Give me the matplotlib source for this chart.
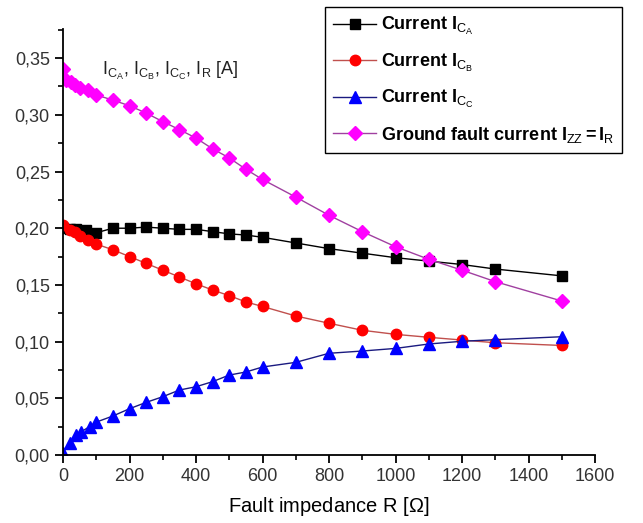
import matplotlib
matplotlib.use("Agg")
import matplotlib.pyplot as plt
from matplotlib.ticker import MultipleLocator, FuncFormatter

plt.rcParams['font.family'] = ['Liberation Sans', 'DejaVu Sans']
plt.rcParams['mathtext.fontset'] = 'custom'
plt.rcParams['mathtext.rm'] = 'Liberation Sans'
plt.rcParams['mathtext.it'] = 'Liberation Sans'
plt.rcParams['mathtext.bf'] = 'Liberation Sans:bold'

# ---- data ----
x_A = [0, 20, 40, 70, 100, 150, 200, 250, 300, 350, 400, 450, 500, 550, 600,
       700, 800, 900, 1000, 1100, 1200, 1300, 1500]
i_A = [0.200, 0.199, 0.199, 0.198, 0.196, 0.200, 0.200, 0.201, 0.200, 0.199,
       0.199, 0.197, 0.195, 0.194, 0.192, 0.187, 0.182, 0.178, 0.174, 0.171,
       0.168, 0.164, 0.158]

x_B = [0, 20, 35, 50, 75, 100, 150, 200, 250, 300, 350, 400, 450, 500, 550,
       600, 700, 800, 900, 1000, 1100, 1200, 1300, 1500]
i_B = [0.203, 0.198, 0.197, 0.193, 0.190, 0.186, 0.181, 0.175, 0.169, 0.163,
       0.157, 0.151, 0.1455, 0.1405, 0.135, 0.131, 0.1226, 0.1162, 0.110,
       0.1064, 0.1038, 0.1014, 0.0990, 0.0966]

x_C = [0, 20, 40, 55, 80, 100, 150, 200, 250, 300, 350, 400, 450, 500, 550,
       600, 700, 800, 900, 1000, 1100, 1200, 1300, 1500]
i_C = [0.002, 0.011, 0.0176, 0.0206, 0.025, 0.029, 0.0344, 0.0408, 0.0464,
       0.0514, 0.0573, 0.0602, 0.0647, 0.0705, 0.0732, 0.0776, 0.0817, 0.0897,
       0.0917, 0.094, 0.0979, 0.1003, 0.1017, 0.1043]

x_R = [0, 10, 25, 37, 50, 76, 100, 150, 200, 250, 300, 350, 400, 450, 500,
       550, 600, 700, 800, 900, 1000, 1100, 1200, 1300, 1500]
i_R = [0.340, 0.331, 0.329, 0.326, 0.324, 0.322, 0.3175, 0.313, 0.308,
       0.3016, 0.294, 0.287, 0.2795, 0.270, 0.262, 0.252, 0.243, 0.2275,
       0.2114, 0.197, 0.1837, 0.1726, 0.163, 0.1529, 0.1358]

labels = [r'Current $\mathbf{I}_{\mathrm{C}_{\mathrm{A}}}$',
          r'Current $\mathbf{I}_{\mathrm{C}_{\mathrm{B}}}$',
          r'Current $\mathbf{I}_{\mathrm{C}_{\mathrm{C}}}$',
          r'Ground fault current $\mathbf{I}_{\mathrm{ZZ}}\mathbf{=I}_{\mathrm{R}}$']

fig = plt.figure(figsize=(6.43, 5.23), dpi=100)
ax = fig.add_axes([63/643, 1-455/523, (595-63)/643, (455-29)/523])

ax.plot(x_A, i_A, color='black', lw=1, marker='s', ms=7, mfc='black', mec='black', label=labels[0])
ax.plot(x_B, i_B, color='#c0504d', lw=1, marker='o', ms=7.5, mfc='#ff0000', mec='#ff0000', label=labels[1])
ax.plot(x_C, i_C, color='#1a1a80', lw=1, marker='^', ms=8.5, mfc='#0000ff', mec='#0000ff', label=labels[2])
ax.plot(x_R, i_R, color='#a040a0', lw=1, marker='D', ms=7, mfc='#ff00ff', mec='#ff00ff', label=labels[3])

ax.set_xlim(0, 1600)
ax.set_ylim(0, 0.3757)
ax.xaxis.set_major_locator(MultipleLocator(200))
ax.xaxis.set_minor_locator(MultipleLocator(100))
ax.yaxis.set_major_locator(MultipleLocator(0.05))
ax.yaxis.set_minor_locator(MultipleLocator(0.025))
ax.yaxis.set_major_formatter(FuncFormatter(lambda v, p: f"{v:.2f}".replace('.', ',')))
for s in ['top', 'right']:
    ax.spines[s].set_visible(False)
for s in ['left', 'bottom']:
    ax.spines[s].set_linewidth(1.3)
ax.tick_params(which='major', direction='out', length=6, width=1.3, labelsize=13, colors='black', labelcolor='#333333')
ax.tick_params(which='minor', direction='out', length=3.5, width=1.2)

ax.set_xlabel(r'Fault impedance R [$\Omega$]', fontsize=14.5, labelpad=7)

ax.text(118, 0.335,
        r'$\mathrm{I}_{\mathrm{C}_{\mathrm{A}}}$, $\mathrm{I}_{\mathrm{C}_{\mathrm{B}}}$, '
        r'$\mathrm{I}_{\mathrm{C}_{\mathrm{C}}}$, $\mathrm{I}_{\mathrm{R}}$ [A]',
        fontsize=13, color='#222222', ha='left', va='baseline')

leg = fig.legend(loc='upper left', bbox_to_anchor=(325/643, 1-7/523), frameon=True,
                 fancybox=False, edgecolor='black', framealpha=1, borderaxespad=0,
                 prop={'weight': 'bold', 'size': 13}, handlelength=2.4,
                 handletextpad=0.25, labelspacing=0.8, borderpad=0.45)
leg.get_frame().set_linewidth(1.0)

fig.savefig('out.png', dpi=100)
